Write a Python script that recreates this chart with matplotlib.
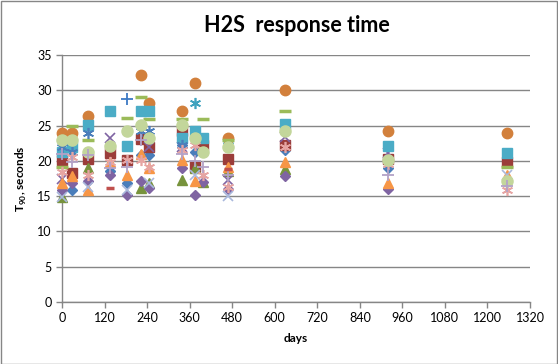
import numpy as np
import matplotlib
matplotlib.use("Agg")
import matplotlib.pyplot as plt
from matplotlib.patches import Rectangle

plt.rcParams['font.family'] = ['Lato', 'DejaVu Sans']
plt.rcParams['mathtext.fontset'] = 'custom'
plt.rcParams['mathtext.rm'] = 'Lato'
plt.rcParams['mathtext.bf'] = 'Lato:bold'

N = None
days = [0, 27, 72, 134, 182, 223, 246, 338, 375, 397, 467, 628, 919, 1255]

blue_diamond   = [N, 15.9, N, 18.5, 16.9, 20.8, 20.9, 22.3, 21.3, N, N, 21.5, 19.0, N]
red_square     = [20.1, 18.3, 20.2, 21.1, 20.1, 23.1, 22.0, 24.2, 19.2, 22.3, 20.2, 22.3, 20.3, 19.9]
green_triangle = [14.9, N, 19.0, N, N, 16.1, 16.9, 17.3, 19.0, 17.0, 18.6, 18.8, N, N]
purple_x       = [17.5, 22.0, N, 23.2, N, N, 22.0, 22.0, N, N, 17.3, 23.4, 21.1, N]
cyan_star      = [N, N, N, N, N, N, N, N, 28.2, N, 22.3, N, N, N]
orange_circle  = [24.0, 24.0, 26.3, N, N, 32.1, 28.2, 27.0, 31.0, N, 23.3, 30.0, 24.2, 24.0]
blue_plus      = [N, N, N, N, 28.7, N, N, N, N, N, N, N, N, N]
green_dash     = [19.1, 25.0, 23.0, N, 26.1, 29.0, 25.9, 25.9, N, 25.9, 23.0, 27.0, N, 19.1]
purple_diamond = [15.8, 16.9, 17.1, 18.0, 15.2, 17.1, 16.1, 19.0, 15.2, 17.0, 16.0, 17.8, 16.0, N]
cyan_square    = [21.3, 22.0, 25.1, 27.0, 22.1, 27.0, 27.0, 23.2, 24.2, 23.2, N, 25.2, 22.1, 21.1]
orange_triangle= [16.8, 17.8, 15.9, 19.9, 18.0, 21.0, 19.0, 20.1, 17.1, N, 19.1, 19.9, 16.8, 18.0]
lavender_x     = [14.9, N, 16.3, N, 15.9, N, 16.9, N, 18.0, N, 15.0, N, N, 18.0]
blue_star      = [22.0, 21.3, 23.9, N, N, 24.2, 24.2, 22.3, N, N, N, N, N, N]
pink_star      = [18.4, 20.5, 18.0, 19.9, 20.1, 20.1, 19.1, 21.5, 22.3, 18.0, 16.3, 22.0, 19.5, 15.9]
lightgreen_circle = [23.0, 23.0, 21.2, 22.1, 24.2, 25.1, 23.2, 25.1, 23.2, 21.2, 22.0, 24.2, 20.1, 17.1]
lavender_plus  = [21.0, 19.9, 20.8, 19.0, 19.2, 22.9, N, 21.0, 20.0, 19.1, 18.0, N, 18.0, 16.5]
red_dash       = [N, N, N, 16.1, N, N, N, N, N, N, 18.8, N, N, N]

ast = (6, 2, 0)
series = [
    (blue_diamond, 'D', '#4A7EBB', 5.5, 1),
    (red_square, 's', '#9B3D3A', 6.5, 1),
    (green_triangle, '^', '#77933C', 7, 1),
    (purple_x, 'x', '#7F64A2', 7, 1.2),
    (cyan_star, ast, '#3FA2BE', 8, 1.2),
    (orange_circle, 'o', '#D2803C', 7.5, 1),
    (blue_plus, '+', '#3D7AC4', 9, 1.3),
    (green_dash, '_', '#9BBB59', 9, 2.5),
    (purple_diamond, 'D', '#7F64A2', 5.5, 1),
    (cyan_square, 's', '#4BACC6', 7, 1),
    (orange_triangle, '^', '#F79646', 7, 1),
    (lavender_x, 'x', '#A9B8DC', 7, 1.2),
    (blue_star, ast, '#4A7EBB', 8, 1.2),
    (pink_star, ast, '#E6A5A3', 8, 1.2),
    (lightgreen_circle, 'o', '#C3D69B', 8, 1),
    (lavender_plus, '+', '#B3A2C7', 9, 1.3),
    (red_dash, '_', '#C0504D', 6, 2.5),
]

fig = plt.figure(figsize=(5.58, 3.64), dpi=100)
ax = fig.add_axes([62/558, 1-302/364, (530-62)/558, (302-55)/364])

for vals, mk, col, ms, mew in series:
    x = [d for d, v in zip(days, vals) if v is not None]
    y = [v for v in vals if v is not None]
    ax.plot(x, y, linestyle='none', marker=mk, color=col, markersize=ms,
            markeredgewidth=mew, markeredgecolor=col, clip_on=False, zorder=3)

ax.set_xlim(0, 1320)
ax.set_ylim(0, 35)
ax.set_xticks(np.arange(0, 1321, 120))
ax.set_yticks(np.arange(0, 36, 5))
ax.yaxis.grid(True, color='#868686', linewidth=1)
ax.set_axisbelow(True)
for s in ['top', 'right']:
    ax.spines[s].set_visible(False)
for s in ['left', 'bottom']:
    ax.spines[s].set_color('#868686')
    ax.spines[s].set_linewidth(1)
ax.tick_params(axis='both', colors='#868686', labelcolor='black', labelsize=9,
               length=4, width=1, direction='out')
ax.set_xlabel('days', fontsize=8.5, fontweight='bold', labelpad=6)
ax.set_ylabel(r'T$_\mathbf{90}$, seconds', fontsize=8.5, fontweight='bold', labelpad=6)
fig.text(297/558, 1-26/364, 'H2S  response time', ha='center', va='center',
         fontsize=15.5, fontweight='bold')

fig.patches.append(Rectangle((0.5/558, 0.5/364), 1-1.5/558, 1-1.5/364,
                             transform=fig.transFigure, fill=False,
                             edgecolor='#868686', linewidth=1))

fig.savefig('out.png', dpi=100)
